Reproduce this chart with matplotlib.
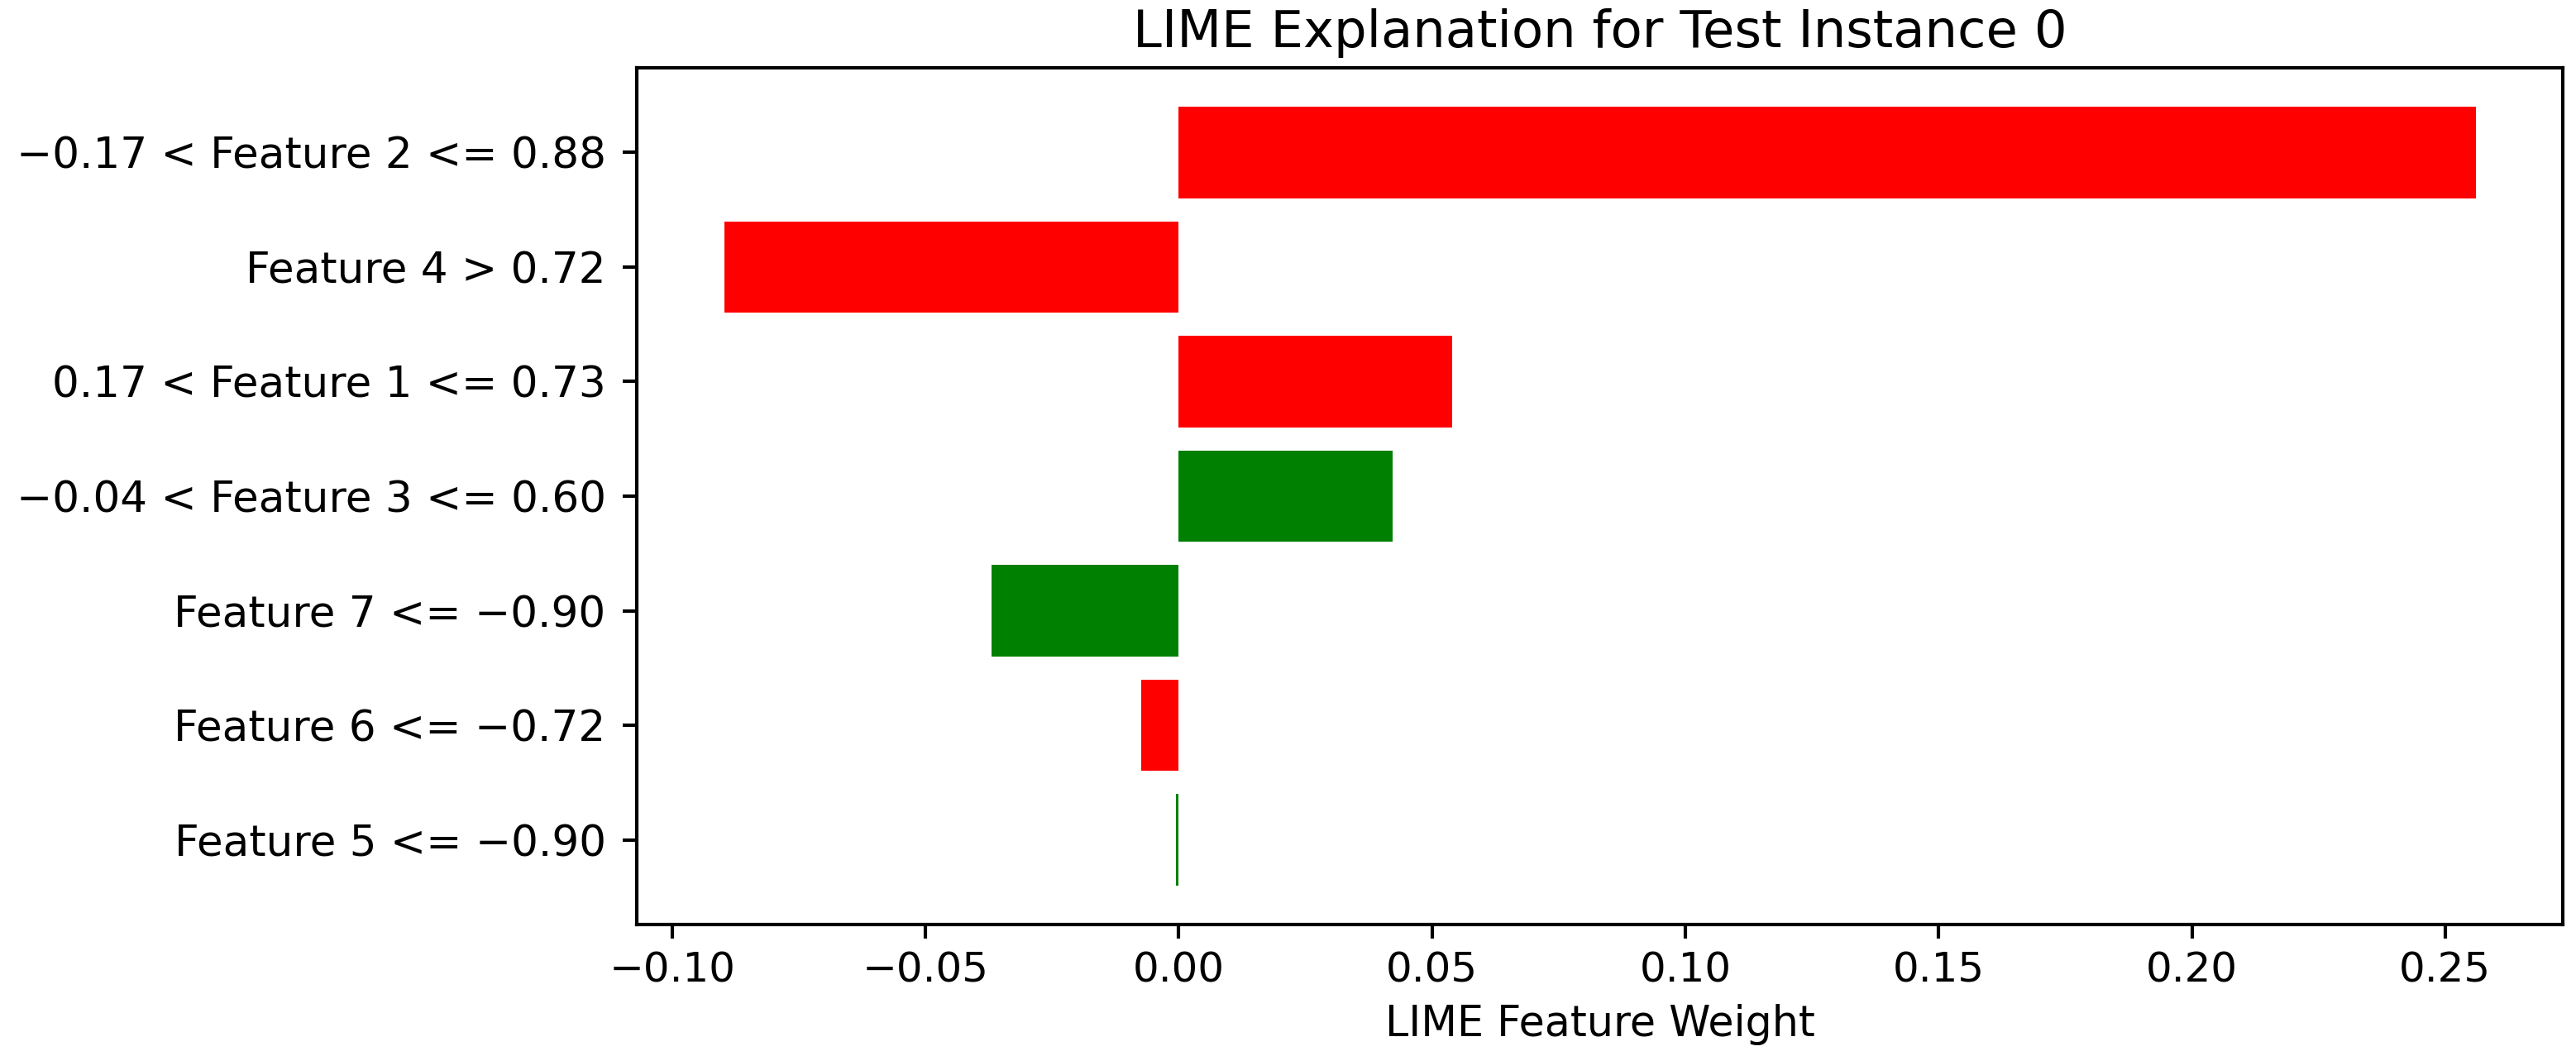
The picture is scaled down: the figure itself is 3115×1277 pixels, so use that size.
import numpy as np
import matplotlib
matplotlib.use('Agg')
import matplotlib.pyplot as plt


# LIME explanation values, listed top to bottom as they appear
feature_labels = [
    '\u22120.17 < Feature 2 <= 0.88',
    'Feature 4 > 0.72',
    '0.17 < Feature 1 <= 0.73',
    '\u22120.04 < Feature 3 <= 0.60',
    'Feature 7 <= \u22120.90',
    'Feature 6 <= \u22120.72',
    'Feature 5 <= \u22120.90',
]
feature_weights = [0.256, -0.0897, 0.0539, 0.0422, -0.0369, -0.0074, -0.0006]
bar_colors = ['red', 'red', 'red', 'green', 'green', 'red', 'green']

x_ticks = [-0.10, -0.05, 0.00, 0.05, 0.10, 0.15, 0.20, 0.25]

##############################################################################

plt.rcParams['font.family'] = ['DejaVu Sans']
plt.rcParams['axes.linewidth'] = 1.0
plt.rcParams['xtick.major.width'] = 1.0
plt.rcParams['ytick.major.width'] = 1.0
plt.rcParams['xtick.major.size'] = 4.0
plt.rcParams['ytick.major.size'] = 4.2
plt.rcParams['ytick.major.pad'] = 4.8

fig, ax = plt.subplots(figsize=(3115 / 300, 1277 / 300), dpi=300)
fig.subplots_adjust(left=0.2472, right=0.995, bottom=0.1245, top=0.9358)

# bars drawn bottom-up, so reverse the top-to-bottom lists
pos = np.arange(len(feature_weights))
ax.barh(pos, feature_weights[::-1], color=bar_colors[::-1], align='center')
ax.set_yticks(pos)
ax.set_yticklabels(feature_labels[::-1], fontsize=12.4)

ax.set_xticks(x_ticks)
ax.set_xticklabels(['\u2212%.2f' % abs(t) if t < 0 else '%.2f' % t for t in x_ticks],
                   fontsize=12)
ax.set_xlabel('LIME Feature Weight', fontsize=12.2)
ax.set_title('LIME Explanation for Test Instance 0', fontsize=15)

fig.savefig('out.png', dpi=300)
